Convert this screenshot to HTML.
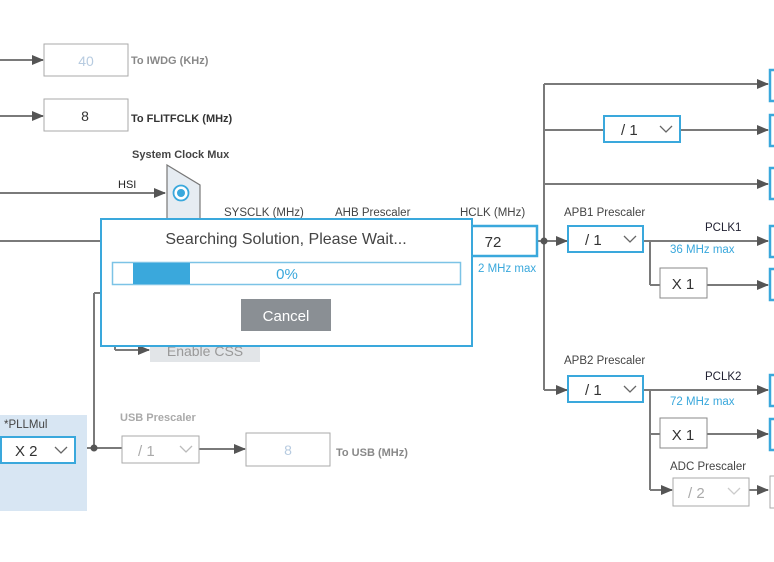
<!DOCTYPE html>
<html><head><meta charset="utf-8"><style>
html,body{margin:0;padding:0;background:#fff;width:774px;height:562px;overflow:hidden}
svg{display:block;font-family:"Liberation Sans",Arial,sans-serif}
</style></head><body>
<svg width="774" height="562" viewBox="0 0 774 562" xmlns="http://www.w3.org/2000/svg">
<defs>
<marker id="a" markerWidth="12" markerHeight="10" refX="11" refY="5" orient="auto" markerUnits="userSpaceOnUse">
<path d="M0,0 L12,5 L0,10 z" fill="#555"/></marker>
</defs>
<g stroke="#7a7a7a" stroke-width="2" fill="none">
<!-- left top -->
<line x1="0" y1="60" x2="43" y2="60" marker-end="url(#a)"/>
<line x1="0" y1="116" x2="43" y2="116" marker-end="url(#a)"/>
<line x1="0" y1="193" x2="165" y2="193" marker-end="url(#a)"/>
<line x1="0" y1="241" x2="110" y2="241"/>
<line x1="115" y1="347" x2="115" y2="350"/>
<line x1="115" y1="350" x2="149" y2="350" marker-end="url(#a)"/>
<line x1="94" y1="293" x2="94" y2="448"/>
<line x1="94" y1="293" x2="105" y2="293"/>
<line x1="76" y1="448" x2="122" y2="448"/>
<line x1="199" y1="449" x2="245" y2="449" marker-end="url(#a)"/>
<!-- right -->
<line x1="537" y1="241" x2="567" y2="241" marker-end="url(#a)"/>
<line x1="544" y1="84" x2="544" y2="390"/>
<line x1="544" y1="84" x2="768" y2="84" marker-end="url(#a)"/>
<line x1="544" y1="130" x2="604" y2="130"/>
<line x1="680" y1="130" x2="768" y2="130" marker-end="url(#a)"/>
<line x1="544" y1="184" x2="768" y2="184" marker-end="url(#a)"/>
<line x1="544" y1="390" x2="567" y2="390" marker-end="url(#a)"/>
<line x1="643" y1="241" x2="768" y2="241" marker-end="url(#a)"/>
<line x1="650" y1="241" x2="650" y2="285"/>
<line x1="650" y1="285" x2="660" y2="285"/>
<line x1="707" y1="285" x2="768" y2="285" marker-end="url(#a)"/>
<line x1="643" y1="390" x2="768" y2="390" marker-end="url(#a)"/>
<line x1="650" y1="390" x2="650" y2="490"/>
<line x1="650" y1="434" x2="660" y2="434"/>
<line x1="707" y1="434" x2="768" y2="434" marker-end="url(#a)"/>
<line x1="650" y1="490" x2="672" y2="490" marker-end="url(#a)"/>
<line x1="749" y1="490" x2="768" y2="490" marker-end="url(#a)"/>
</g>
<circle cx="94" cy="448" r="3.5" fill="#555"/>
<circle cx="544" cy="241" r="3.5" fill="#555"/>
<!-- left boxes -->
<rect x="44" y="44" width="84" height="32" fill="#fff" stroke="#aaa"/>
<text x="86" y="66" font-size="14" fill="#b7cbe0" text-anchor="middle">40</text>
<text x="131" y="64" font-size="11" font-weight="bold" fill="#888">To IWDG (KHz)</text>
<rect x="44" y="99" width="84" height="32" fill="#fff" stroke="#aaa"/>
<text x="85" y="121" font-size="14" fill="#333" text-anchor="middle">8</text>
<text x="131" y="122" font-size="11" font-weight="bold" fill="#333">To FLITFCLK (MHz)</text>
<text x="132" y="158" font-size="11" font-weight="bold" fill="#444">System Clock Mux</text>
<polygon points="167,165 200,185 200,300 167,300" fill="#e6ecf2" stroke="#777" stroke-width="1.2"/>
<circle cx="181" cy="193" r="7.5" fill="#fff" stroke="#3aa8dc" stroke-width="1.8"/>
<circle cx="181" cy="193" r="4" fill="#3aa8dc"/>
<text x="118" y="188" font-size="11" fill="#222">HSI</text>
<text x="224" y="216" font-size="11.5" fill="#444">SYSCLK (MHz)</text>
<text x="335" y="216" font-size="11.5" fill="#444">AHB Prescaler</text>
<text x="460" y="216" font-size="11.5" fill="#444">HCLK (MHz)</text>
<rect x="440" y="226" width="97" height="30" fill="#fff" stroke="#3aa8dc" stroke-width="2.5"/>
<text x="493" y="247" font-size="15" fill="#333" text-anchor="middle">72</text>
<text x="478" y="272" font-size="11.5" fill="#3aa8dc">2 MHz max</text>
<rect x="150" y="339" width="110" height="23" fill="#e2e5e8"/>
<text x="205" y="356" font-size="14" fill="#999" text-anchor="middle">Enable CSS</text>
<!-- PLLMul -->
<rect x="0" y="415" width="87" height="96" fill="#d8e6f3"/>
<text x="4" y="428" font-size="11.5" fill="#444">*PLLMul</text>
<rect x="1" y="437" width="74" height="26" fill="#fff" stroke="#3aa8dc" stroke-width="2"/>
<text x="15" y="456" font-size="15" fill="#333">X 2</text>
<path d="M55,447 L61,453 L67,447" fill="none" stroke="#666" stroke-width="1.3"/>
<text x="120" y="421" font-size="11" font-weight="bold" fill="#aaa">USB Prescaler</text>
<rect x="122" y="436" width="77" height="27" fill="#fff" stroke="#aaa"/>
<text x="138" y="456" font-size="15" fill="#aaa">/ 1</text>
<path d="M180,446 L186,452 L192,446" fill="none" stroke="#bbb" stroke-width="1.3"/>
<rect x="246" y="433" width="84" height="33" fill="#fff" stroke="#aaa"/>
<text x="288" y="455" font-size="14" fill="#b7cbe0" text-anchor="middle">8</text>
<text x="336" y="456" font-size="11" font-weight="bold" fill="#888">To USB (MHz)</text>
<!-- right side -->
<rect x="604" y="116" width="76" height="26" fill="#fff" stroke="#3aa8dc" stroke-width="2"/>
<text x="621" y="135" font-size="15" fill="#333">/ 1</text>
<path d="M660,126 L666,132 L672,126" fill="none" stroke="#666" stroke-width="1.3"/>
<text x="564" y="216" font-size="11.5" fill="#444">APB1 Prescaler</text>
<rect x="568" y="226" width="75" height="26" fill="#fff" stroke="#3aa8dc" stroke-width="2"/>
<text x="585" y="245" font-size="15" fill="#333">/ 1</text>
<path d="M624,236 L630,242 L636,236" fill="none" stroke="#666" stroke-width="1.3"/>
<text x="705" y="231" font-size="11.5" fill="#223">PCLK1</text>
<text x="670" y="253" font-size="11.5" fill="#3aa8dc">36 MHz max</text>
<rect x="660" y="268" width="47" height="30" fill="#fff" stroke="#888"/>
<text x="683" y="289" font-size="15" fill="#333" text-anchor="middle">X 1</text>
<text x="564" y="364" font-size="11.5" fill="#444">APB2 Prescaler</text>
<rect x="568" y="376" width="75" height="26" fill="#fff" stroke="#3aa8dc" stroke-width="2"/>
<text x="585" y="395" font-size="15" fill="#333">/ 1</text>
<path d="M624,386 L630,392 L636,386" fill="none" stroke="#666" stroke-width="1.3"/>
<text x="705" y="380" font-size="11.5" fill="#223">PCLK2</text>
<text x="670" y="405" font-size="11.5" fill="#3aa8dc">72 MHz max</text>
<rect x="660" y="418" width="47" height="30" fill="#fff" stroke="#888"/>
<text x="683" y="440" font-size="15" fill="#333" text-anchor="middle">X 1</text>
<text x="670" y="470" font-size="11.5" fill="#444">ADC Prescaler</text>
<rect x="673" y="478" width="76" height="28" fill="#fff" stroke="#aaa"/>
<text x="688" y="498" font-size="15" fill="#aaa">/ 2</text>
<path d="M728,488 L734,494 L740,488" fill="none" stroke="#ccc" stroke-width="1.3"/>
<g fill="#fff" stroke="#3aa8dc" stroke-width="2.5">
<rect x="770" y="70" width="10" height="31"/>
<rect x="770" y="115" width="10" height="31"/>
<rect x="770" y="168" width="10" height="31"/>
<rect x="770" y="226" width="10" height="31"/>
<rect x="770" y="269" width="10" height="31"/>
<rect x="770" y="375" width="10" height="31"/>
<rect x="770" y="419" width="10" height="31"/>
</g>
<rect x="770" y="476" width="10" height="32" fill="#fff" stroke="#aaa"/>
<!-- dialog -->
<rect x="101" y="219" width="371" height="127" fill="#fff" stroke="#3aa8dc" stroke-width="2"/>
<text x="286" y="244" font-size="16" fill="#444" text-anchor="middle">Searching Solution, Please Wait...</text>
<rect x="112.5" y="262.5" width="348" height="22" fill="#fff" stroke="#7cc3e6" stroke-width="1.5"/>
<rect x="133" y="263" width="57" height="21" fill="#3aa8dc"/>
<text x="287" y="279" font-size="15" fill="#3aa8dc" text-anchor="middle">0%</text>
<rect x="241" y="299" width="90" height="32" fill="#8a8f94"/>
<text x="286" y="321" font-size="15" fill="#fff" text-anchor="middle">Cancel</text>
</svg>
</body></html>
